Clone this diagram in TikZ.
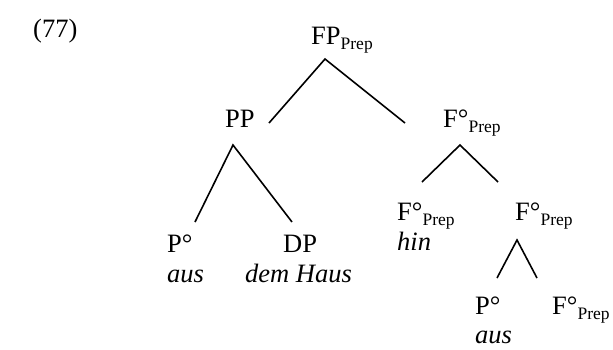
\documentclass[tikz,border=0pt]{standalone}
\usepackage{fontspec}
\setmainfont{Liberation Serif}
\newcommand{\mysub}[1]{\raisebox{-5pt}{\fontsize{17.5}{18}\selectfont #1}}
\begin{document}
\begin{tikzpicture}[x=1pt,y=-1pt,
  lab/.style={anchor=base west,inner sep=0pt,font=\fontsize{26.5}{30}\selectfont},
  edge/.style={line width=1.6pt}]
\useasboundingbox (0,0) rectangle (613,349);
\node[lab] (ex) at (33,37) {(77)};
\node[lab] (fp) at (311,44) {FP\mysub{Prep}};
\node[lab] (pp) at (225,127) {PP};
\node[lab] (f1) at (443,127) {F°\mysub{Prep}};
\node[lab] (p1) at (167,252) {P°};
\node[lab] (aus1) at (167,282) {\itshape aus};
\node[lab] (dp) at (283,252) {DP};
\node[lab] (dh) at (245,282) {\itshape dem Haus};
\node[lab] (f2) at (397,220) {F°\mysub{Prep}};
\node[lab] (hin) at (397,250) {\itshape hin};
\node[lab] (f3) at (515,220) {F°\mysub{Prep}};
\node[lab] (p2) at (475,314) {P°};
\node[lab] (aus2) at (475,343) {\itshape aus};
\node[lab] (f4) at (552,314) {F°\mysub{Prep}};
\coordinate (a0) at (325,59);
\coordinate (a0l) at (269,123);
\coordinate (a0r) at (405,123);
\coordinate (a1) at (233,145);
\coordinate (a1l) at (195,222);
\coordinate (a1r) at (292,222);
\coordinate (a2) at (460,145);
\coordinate (a2l) at (422,182);
\coordinate (a2r) at (498,182);
\coordinate (a3) at (517,240);
\coordinate (a3l) at (497,278);
\coordinate (a3r) at (537,278);
\draw[edge] (a0l) -- (a0) -- (a0r);
\draw[edge] (a1l) -- (a1) -- (a1r);
\draw[edge] (a2l) -- (a2) -- (a2r);
\draw[edge] (a3l) -- (a3) -- (a3r);
\end{tikzpicture}
\end{document}
